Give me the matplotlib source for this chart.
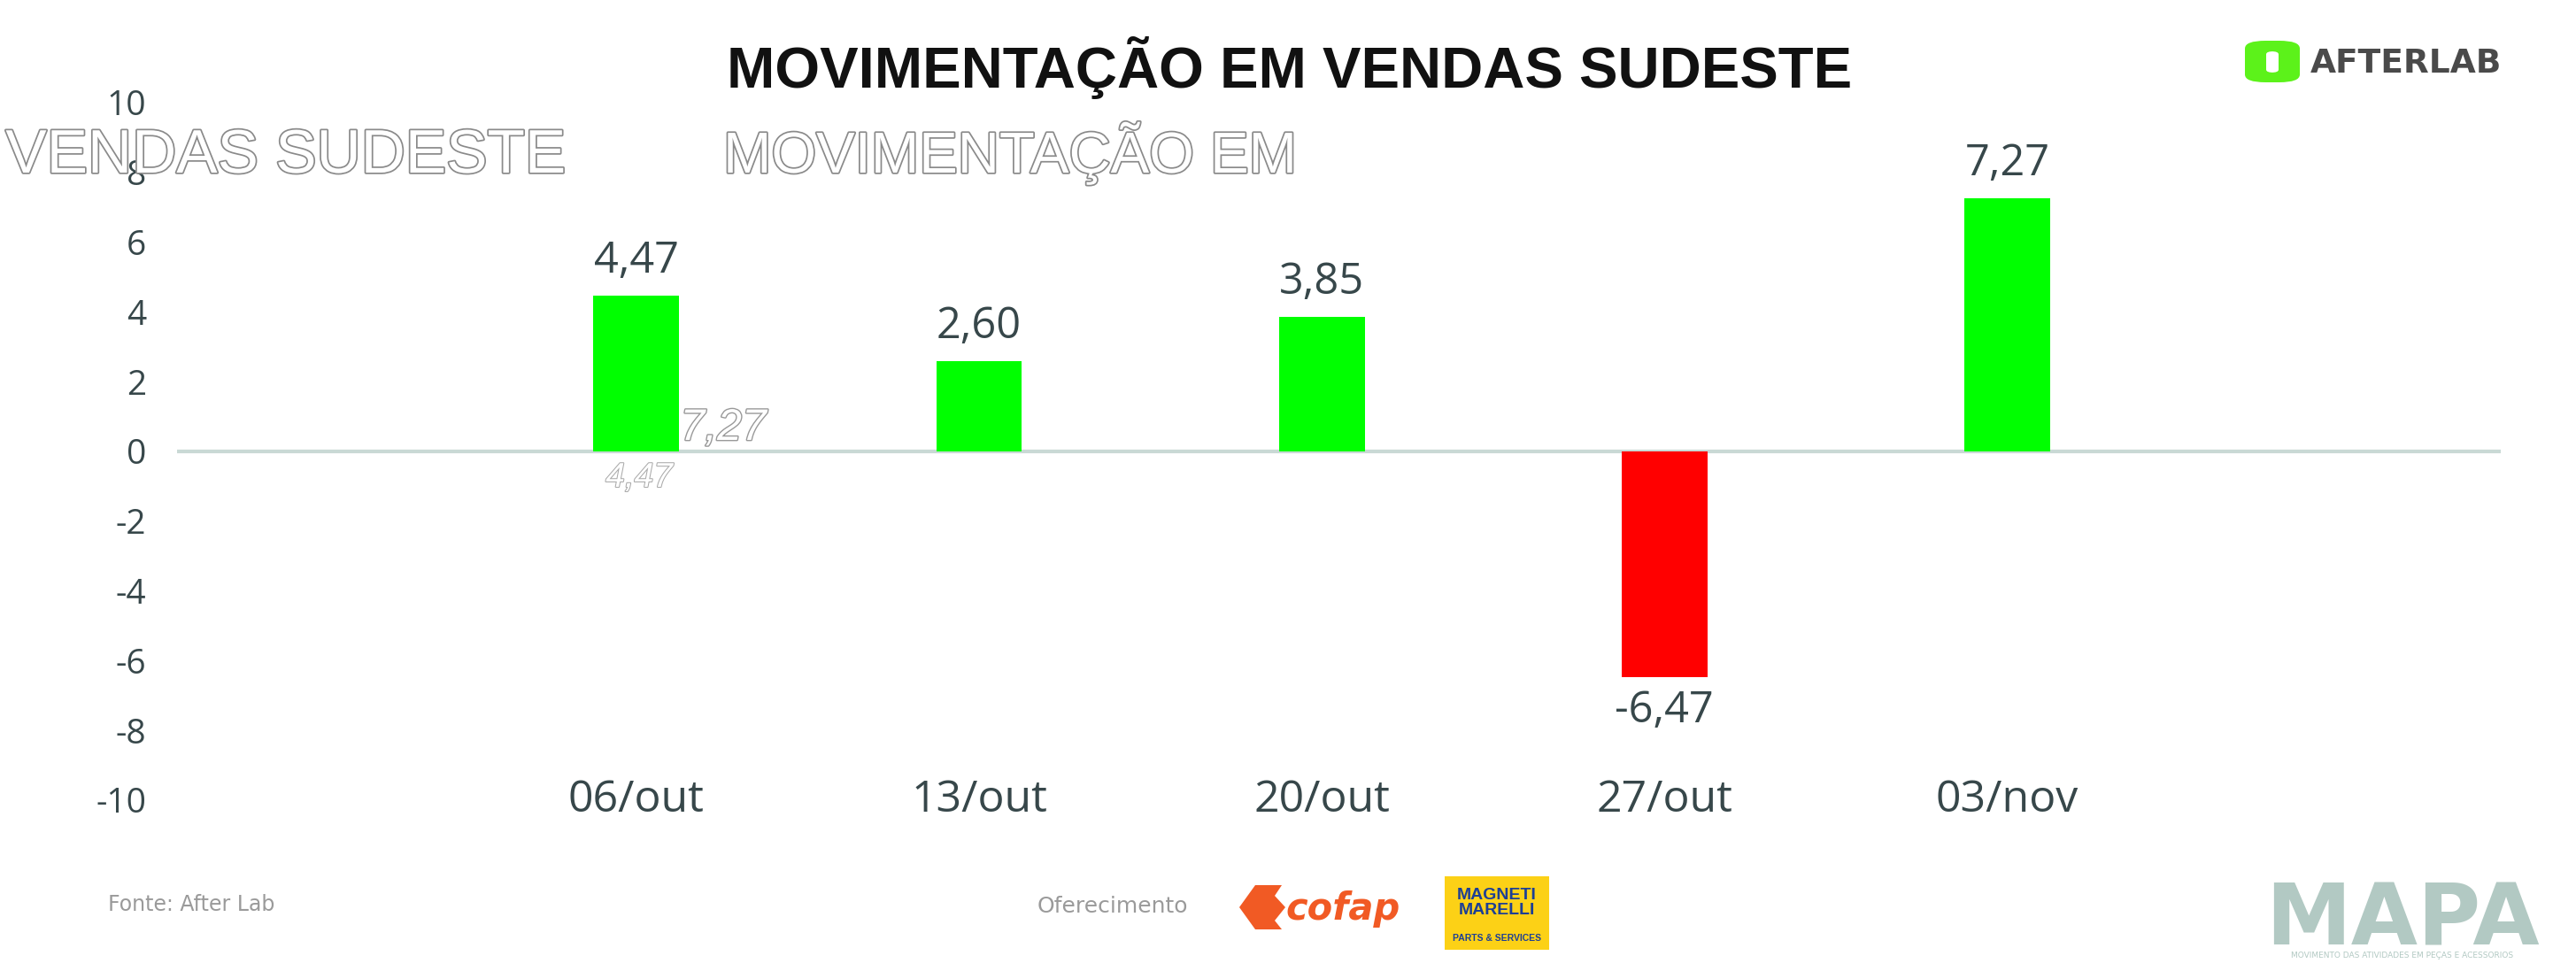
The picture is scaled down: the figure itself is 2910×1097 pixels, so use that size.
import numpy as np
import matplotlib
matplotlib.use('Agg')
import matplotlib.pyplot as plt
import matplotlib.patheffects as pe
from matplotlib.patches import Rectangle, FancyBboxPatch, Polygon

# data
semanas = ['06/out', '13/out', '20/out', '27/out', '03/nov']
variacao = [4.47, 2.60, 3.85, -6.47, 7.27]
y_ticks = [-10, -8, -6, -4, -2, 0, 2, 4, 6, 8, 10]

titulo = 'MOVIMENTAÇÃO EM VENDAS SUDESTE'
fonte = 'Fonte: After Lab'
oferecimento = 'Oferecimento'

W, H = 2910, 1097
txt_color = '#37474a'
verde = '#00ff00'
vermelho = '#ff0000'
estreita = 'Liberation Sans'


def fx(x):
    return x / W


def fy(y):
    return 1 - y / H


fig = plt.figure(figsize=(W / 100, H / 100), dpi=100)
fig.patch.set_facecolor('white')

ax = fig.add_axes([fx(200), fy(904), fx(2825) - fx(200), fy(116) - fy(904)])
x = np.arange(len(semanas))
cores = [verde if v >= 0 else vermelho for v in variacao]
ax.bar(x, variacao, width=0.25, color=cores, zorder=2)
ax.axhline(0, color='#c9d9d5', lw=3, zorder=1)

ax.set_xlim(-1.34, 5.44)
ax.set_ylim(-10, 10)
ax.set_yticks(y_ticks)
ax.set_yticklabels([str(t) for t in y_ticks], fontsize=28, color=txt_color, family='Open Sans')
ax.tick_params(axis='y', length=0, pad=25)
ax.set_xticks([])
for s in ax.spines.values():
    s.set_visible(False)

# rótulos
for xi, v in zip(x, variacao):
    lbl = f'{v:.2f}'.replace('.', ',')
    if v >= 0:
        ax.annotate(lbl, (xi, v), xytext=(0, 10), textcoords='offset points', ha='center', va='bottom',
                    fontsize=35, color=txt_color, family='Open Sans')
    else:
        ax.annotate(lbl, (xi, v), xytext=(0, -10), textcoords='offset points', ha='center', va='top',
                    fontsize=35, color=txt_color, family='Open Sans')
    ax.text(xi, -10, semanas[xi], ha='center', va='center', fontsize=36, color=txt_color, family='Open Sans')

# textos "fantasma" da imagem original
ghost = [pe.Stroke(linewidth=2.5, foreground='#8a8a8a'), pe.Normal()]
fig.text(fx(640), fy(195), 'EM VENDAS SUDESTE', ha='right', va='baseline', fontsize=50, color='white',
         family=estreita, path_effects=ghost, zorder=0)
fig.text(fx(817), fy(195), 'MOVIMENTAÇÃO EM', ha='left', va='baseline', fontsize=47, color='white',
         family=estreita, path_effects=ghost, zorder=0)
fig.text(fx(817), fy(497), '7,27', ha='center', va='baseline', fontsize=36, color='white', style='italic',
         family=estreita, path_effects=[pe.Stroke(linewidth=2, foreground='#999999'), pe.Normal()], zorder=0)
fig.text(fx(722), fy(550), '4,47', ha='center', va='baseline', fontsize=28, color='white', style='italic',
         family=estreita, path_effects=[pe.Stroke(linewidth=1.5, foreground='#aaaaaa'), pe.Normal()], zorder=0)

# título
fig.text(fx(1457), fy(77), titulo, ha='center', va='center', fontsize=47, fontweight='bold', color='#111111',
         family=estreita)

# logo AFTERLAB
fig.add_artist(FancyBboxPatch((fx(2536), fy(93)), fx(62), fy(46) - fy(93),
                              boxstyle='round,pad=0,rounding_size=0.008', transform=fig.transFigure,
                              facecolor='#5cf21a', edgecolor='none'))
fig.add_artist(FancyBboxPatch((fx(2560), fy(82)), fx(14), fy(58) - fy(82),
                              boxstyle='round,pad=0,rounding_size=0.003', transform=fig.transFigure,
                              facecolor='white', edgecolor='none'))
fig.text(fx(2610), fy(72), 'AFTERLAB', ha='left', va='center', fontsize=27, fontweight='bold',
         color='#4a4a4a')

# rodapé
fig.text(fx(122), fy(1022), fonte, ha='left', va='center', fontsize=17, color='#9a9a9a')
fig.text(fx(1172), fy(1024), oferecimento, ha='left', va='center', fontsize=18, color='#9a9a9a')

# logo cofap
laranja = '#f15a24'
fig.add_artist(Polygon([(fx(1400), fy(1025)), (fx(1418), fy(1000)), (fx(1448), fy(1000)),
                        (fx(1440), fy(1012)), (fx(1452), fy(1025)), (fx(1440), fy(1040)),
                        (fx(1448), fy(1050)), (fx(1418), fy(1050))],
                       closed=True, transform=fig.transFigure, facecolor=laranja, edgecolor='none'))
fig.text(fx(1452), fy(1027), 'cofap', ha='left', va='center', fontsize=30, fontweight='bold',
         style='italic', color=laranja)

# logo Magneti Marelli
fig.add_artist(Rectangle((fx(1632), fy(1073)), fx(118), fy(990) - fy(1073), transform=fig.transFigure,
                         facecolor='#fcd116', edgecolor='none'))
fig.text(fx(1691), fy(1020), 'MAGNETI\nMARELLI', ha='center', va='center', fontsize=14, fontweight='bold',
         color='#1d3f95', linespacing=0.95, family=estreita)
fig.text(fx(1691), fy(1060), 'PARTS & SERVICES', ha='center', va='center', fontsize=7.5, fontweight='bold',
         color='#1d3f95', family=estreita)

# logo MAPA
fig.text(fx(2714), fy(1068), 'MAPA', ha='center', va='baseline', fontsize=70, fontweight='bold',
         color='#b2c9c3', family='DejaVu Sans')
fig.text(fx(2714), fy(1080), 'MOVIMENTO DAS ATIVIDADES EM PEÇAS E ACESSORIOS', ha='center', va='center',
         fontsize=6.5, color='#b2c9c3')

fig.savefig('out.png', dpi=100, facecolor='white')
